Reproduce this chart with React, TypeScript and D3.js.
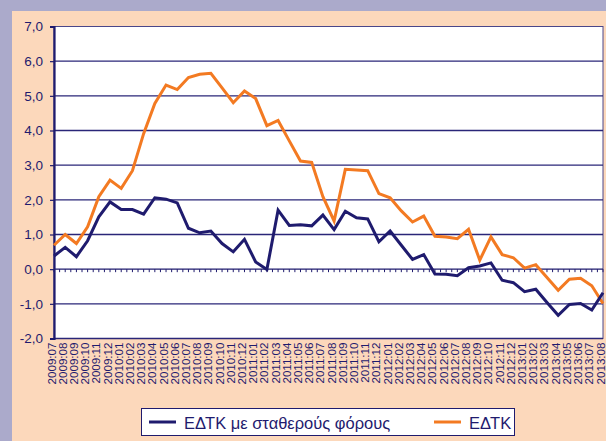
import { useEffect, useRef } from 'react';
import * as d3 from 'd3';

const MONTHS: string[] = [
  '2009:07', '2009:08', '2009:09', '2009:10', '2009:11', '2009:12',
  '2010:01', '2010:02', '2010:03', '2010:04', '2010:05', '2010:06',
  '2010:07', '2010:08', '2010:09', '2010:10', '2010:11', '2010:12',
  '2011:01', '2011:02', '2011:03', '2011:04', '2011:05', '2011:06',
  '2011:07', '2011:08', '2011:09', '2011:10', '2011:11', '2011:12',
  '2012:01', '2012:02', '2012:03', '2012:04', '2012:05', '2012:06',
  '2012:07', '2012:08', '2012:09', '2012:10', '2012:11', '2012:12',
  '2013:01', '2013:02', '2013:03', '2013:04', '2013:05', '2013:06',
  '2013:07', '2013:08',
];

// ΕΔΤΚ με σταθερούς φόρους
const CONST_TAX: number[] = [
  0.38, 0.63, 0.36, 0.82, 1.51, 1.94, 1.72, 1.72, 1.59, 2.06,
  2.02, 1.91, 1.18, 1.05, 1.10, 0.74, 0.50, 0.86, 0.21, -0.01,
  1.70, 1.26, 1.28, 1.25, 1.56, 1.14, 1.67, 1.48, 1.45, 0.79,
  1.10, 0.69, 0.28, 0.42, -0.14, -0.15, -0.19, 0.04, 0.09, 0.18,
  -0.32, -0.39, -0.65, -0.58, -0.96, -1.33, -1.02, -0.99, -1.18, -0.68,
];

// ΕΔΤΚ
const HICP: number[] = [
  0.69, 1.00, 0.74, 1.22, 2.09, 2.57, 2.33, 2.84, 3.91, 4.78,
  5.31, 5.18, 5.53, 5.62, 5.65, 5.23, 4.80, 5.14, 4.92, 4.14,
  4.29, 3.70, 3.12, 3.08, 2.09, 1.39, 2.88, 2.86, 2.84, 2.18,
  2.06, 1.68, 1.36, 1.53, 0.95, 0.93, 0.88, 1.15, 0.26, 0.93,
  0.42, 0.33, 0.03, 0.13, -0.24, -0.61, -0.29, -0.26, -0.48, -0.99,
];

const Y_TICKS = [-2, -1, 0, 1, 2, 3, 4, 5, 6, 7];

const NAVY = '#1f1b6e';
const ORANGE = '#f37a22';
const FONT = 'Arial, "Liberation Sans", sans-serif';

export default function App() {
  const ref = useRef<SVGSVGElement>(null);

  useEffect(() => {
    if (!ref.current) return;
    const svg = d3.select(ref.current);
    svg.selectAll('*').remove();

    const W = 606;
    const H = 441;
    const left = 54;
    const right = 603;
    const top = 26.5;
    const bottom = 338.5;

    // background + panel
    svg.append('rect').attr('width', W).attr('height', H).attr('fill', '#abaacb');
    svg.append('rect').attr('x', 12).attr('y', 11).attr('width', W - 12).attr('height', H - 11).attr('fill', '#fcd8bb');

    const x = d3.scalePoint<string>().domain(MONTHS).range([left, right]);
    const y = d3.scaleLinear().domain([-2, 7]).range([bottom, top]);

    svg.append('rect').attr('x', left).attr('y', top)
      .attr('width', right - left).attr('height', bottom - top)
      .attr('fill', '#fff').attr('stroke', '#4a478a').attr('stroke-width', 1);

    // gridlines
    svg.append('g').selectAll('line').data(Y_TICKS.filter(t => t !== 0 && t !== 7)).enter().append('line')
      .attr('x1', left).attr('x2', right)
      .attr('y1', d => y(d)).attr('y2', d => y(d))
      .attr('stroke', '#2a2678').attr('stroke-width', 1.3);

    // y axis
    const yAxis = svg.append('g').attr('transform', `translate(${left},0)`)
      .call(d3.axisLeft(y).tickValues(Y_TICKS).tickSize(4).tickPadding(7)
        .tickFormat(d => d3.format('.1f')(d as number).replace('.', ',').replace('−', '-')));
    yAxis.select('.domain').attr('stroke', NAVY).attr('stroke-width', 2.2);
    yAxis.selectAll('.tick line').attr('stroke', NAVY).attr('stroke-width', 1.2);
    yAxis.selectAll('text').attr('fill', NAVY).attr('font-family', FONT).attr('font-size', 13.5);

    // zero axis with small ticks
    const step = x.step();
    const halfTicks = d3.range(0, MONTHS.length * 2 - 1).map(i => left + (i * step) / 2);
    svg.append('line').attr('x1', left).attr('x2', right).attr('y1', y(0)).attr('y2', y(0))
      .attr('stroke', NAVY).attr('stroke-width', 1.4);
    svg.append('g').selectAll('line').data(halfTicks).enter().append('line')
      .attr('x1', d => d).attr('x2', d => d).attr('y1', y(0)).attr('y2', y(0) + 3)
      .attr('stroke', NAVY).attr('stroke-width', 1);

    // x labels
    svg.append('g').selectAll('text').data(MONTHS).enter().append('text')
      .attr('transform', d => `translate(${x(d)! - 3},${bottom + 4}) rotate(-90)`)
      .attr('text-anchor', 'end').attr('dominant-baseline', 'central')
      .attr('font-family', FONT).attr('font-size', 11.6).attr('fill', NAVY)
      .text(d => d);

    const line = d3.line<number>().x((_, i) => x(MONTHS[i])!).y(d => y(d));

    svg.append('path').datum(HICP).attr('d', line)
      .attr('fill', 'none').attr('stroke', ORANGE).attr('stroke-width', 3).attr('stroke-linejoin', 'miter');
    svg.append('path').datum(CONST_TAX).attr('d', line)
      .attr('fill', 'none').attr('stroke', NAVY).attr('stroke-width', 3).attr('stroke-linejoin', 'miter');

    // legend
    const lg = svg.append('g');
    lg.append('rect').attr('x', 141.5).attr('y', 408.5).attr('width', 373).attr('height', 27)
      .attr('fill', '#fff').attr('stroke', NAVY).attr('stroke-width', 1);
    const items = [
      { label: 'ΕΔΤΚ με σταθερούς φόρους', color: NAVY, x0: 149 },
      { label: 'ΕΔΤΚ', color: ORANGE, x0: 434 },
    ];
    items.forEach(it => {
      lg.append('line').attr('x1', it.x0).attr('x2', it.x0 + 27).attr('y1', 422).attr('y2', 422)
        .attr('stroke', it.color).attr('stroke-width', 3);
      lg.append('text').attr('x', it.x0 + 35).attr('y', 422.5).attr('dominant-baseline', 'central')
        .attr('font-family', FONT).attr('font-size', 16.5).attr('fill', NAVY)
        .text(it.label);
    });
  }, []);

  return (
    <div style={{ position: 'fixed', left: 0, top: 0, width: 606, height: 441 }}>
      <svg ref={ref} width={606} height={441} style={{ display: 'block' }} />
    </div>
  );
}
